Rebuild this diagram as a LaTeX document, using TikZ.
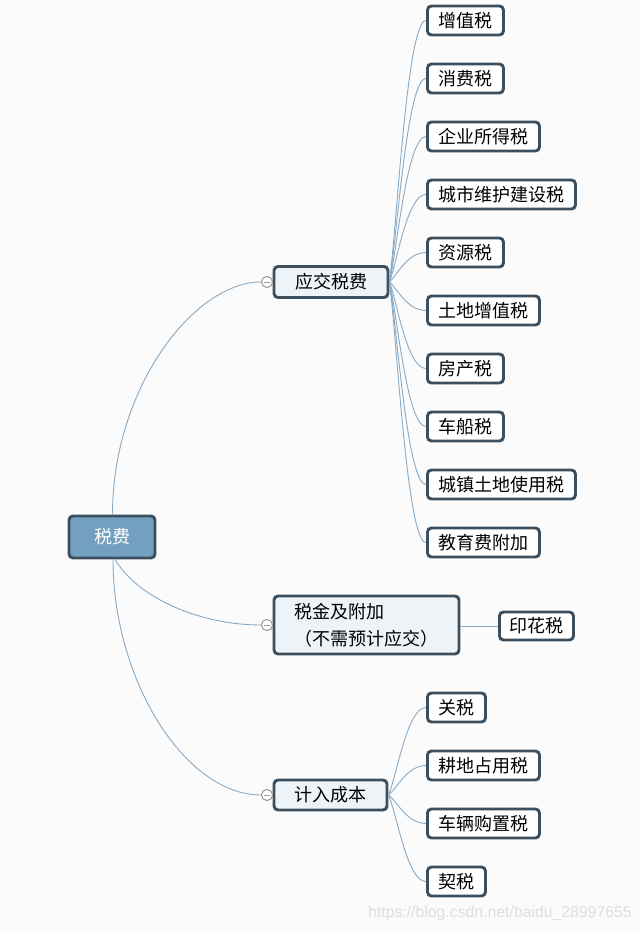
\documentclass[tikz,border=0pt]{standalone}
\usepackage{fontspec}
\newfontfamily\cjk{Noto Sans CJK SC}
\newfontfamily\wmfont{Liberation Sans}
\usetikzlibrary{calc}
\definecolor{bg}{HTML}{FBFBFC}
\definecolor{bord}{HTML}{3B4F5F}
\definecolor{rootfill}{HTML}{74A0C0}
\definecolor{boxfill}{HTML}{EEF3F7}
\definecolor{conncol}{HTML}{88AAC4}
\definecolor{togcol}{HTML}{9A9A9A}
\tikzset{
  x=1pt,y=-1pt,
  basebox/.style={draw=bord,line width=2.9pt,rounded corners=4pt,font=\cjk\fontsize{18}{22}\selectfont,text=black},
  rootbox/.style={basebox,fill=rootfill,text=white,minimum width=86pt,minimum height=42pt,inner sep=0pt},
  midbox/.style={basebox,fill=boxfill,minimum height=31pt,inner sep=0pt},
  leafbox/.style={basebox,fill=white,minimum height=29pt,inner xsep=11pt,inner ysep=0pt,anchor=west},
  conn/.style={draw=conncol,line width=0.9pt},
  toggle/.style={circle,draw=togcol,fill=white,line width=0.9pt,minimum size=11pt,inner sep=0pt,
    path picture={\draw[togcol,line width=0.9pt] ($(path picture bounding box.west)+(2.5pt,0)$) -- ($(path picture bounding box.east)+(-2.5pt,0)$);}}
}
\begin{document}
\begin{tikzpicture}
\fill[bg] (0,0) rectangle (641,931);
\useasboundingbox (0,0) rectangle (641,931);

% main nodes
\node[rootbox] (root) at (112,537) {税费};
\node[midbox,minimum width=114pt] (yj) at (331,282) {应交税费};
\node[midbox,minimum width=185pt,minimum height=58pt,text width=145pt,align=left,inner xsep=20pt,
      font=\cjk\fontsize{18}{27}\selectfont] (sj) at (366.5,625) {税金及附加\\（不需预计应交）};
\node[midbox,minimum width=113pt,minimum height=30pt] (jr) at (330.5,795) {计入成本};
\node[leafbox,minimum height=28pt,inner xsep=10pt] (yhs) at (498,626) {印花税};

% toggles
\node[toggle] (t1) at (267,282) {};
\node[toggle] (t2) at (267,625) {};
\node[toggle] (t3) at (267,795) {};

% leaves of 应交税费
\foreach \n/\y/\t in {a1/20.5/增值税, a2/78.5/消费税, a3/136.5/企业所得税, a4/194.5/城市维护建设税,
  a5/252.5/资源税, a6/310.5/土地增值税, a7/368.5/房产税, a8/426.5/车船税,
  a9/484.5/城镇土地使用税, a10/542.5/教育费附加}{
  \node[leafbox] (\n) at (426,\y) {\t};
  \draw[conn] (yj.east) .. controls (397,{282+0.22*(\y-282)}) and (407,\y) .. (\n.west);
}
% leaves of 计入成本
\foreach \n/\y/\t in {b1/707.5/关税, b2/765.5/耕地占用税, b3/823.5/车辆购置税, b4/881.5/契税}{
  \node[leafbox] (\n) at (426,\y) {\t};
  \draw[conn] (jr.east) .. controls (397,{795+0.22*(\y-795)}) and (407,\y) .. (\n.west);
}

% root connectors
\draw[conn] ($(root.north)+(0.5,0)$) .. controls (112.5,388) and (194,282) .. (t1.west);
\draw[conn] ($(root.south)+(3,0)$) .. controls (138,598) and (200,625) .. (t2.west);
\draw[conn] ($(root.south)+(1,0)$) .. controls (113,680) and (185,795) .. (t3.west);
\draw[conn] (sj.east |- yhs.west) -- (yhs.west);

% redraw toggles on top
\node[toggle] at (t1) {};
\node[toggle] at (t2) {};
\node[toggle] at (t3) {};

% watermark
\node[anchor=west,text=black!13,font=\wmfont\fontsize{15.8}{17}\selectfont,inner sep=0pt] (wm) at (368,913) {https://blog.csdn.net/baidu\_28997655};
\end{tikzpicture}
\end{document}
